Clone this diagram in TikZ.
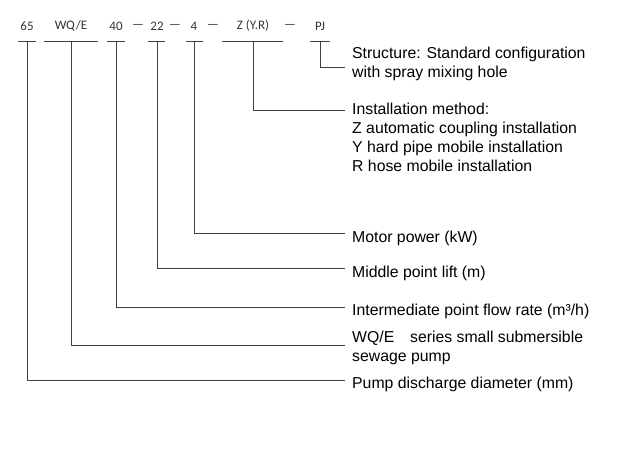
\documentclass[tikz,border=0pt]{standalone}
\usepackage{fontspec}
\setmainfont{Liberation Sans}
\newfontfamily\carlitofont{Carlito}
\begin{document}
\begin{tikzpicture}[x=1pt,y=-1pt,
  ln/.style={draw=black!75,line width=0.8pt},
  code/.style={font=\carlitofont\fontsize{13}{15}\selectfont,text=black!80,inner sep=0pt},
  desc/.style={font=\fontsize{15.8}{19}\selectfont,anchor=west,align=left,inner sep=0pt}]
\useasboundingbox (0,0) rectangle (640,450);
\node[code] (c65) at (27,26) {65};
\node[code] (cwq) at (71,26) {WQ/E};
\node[code] (c40) at (116,26) {40};
\node[code] (c22) at (157,26) {22};
\node[code] (c4) at (194,26) {4};
\node[code] (cz) at (253,26) {Z (Y.R)};
\node[code] (cpj) at (320,26) {PJ};
\foreach \x in {138,175,213,290} \node[code] at (\x,26) {—};
\foreach \a/\b in {18/36,44/98,107/125,148/165,186/203,222/283,310/330}
  \draw[ln] (\a,41) -- (\b,41);
\node[desc,anchor=north west] (d1) at (352,47) {Structure: Standard configuration\\with spray mixing hole};
\node[desc,anchor=north west] (d2) at (352,103) {Installation method:\\Z automatic coupling installation\\Y hard pipe mobile installation\\R hose mobile installation};
\node[desc] (d3) at (352,238) {Motor power (kW)};
\node[desc] (d4) at (352,273) {Middle point lift (m)};
\node[desc] (d5) at (352,311) {Intermediate point flow rate (m³/h)};
\node[desc,anchor=north west] (d6) at (352,331) {WQ/E\quad series small submersible\\sewage pump};
\node[desc] (d7) at (352,384) {Pump discharge diameter (mm)};
\coordinate (e1) at (345,67);
\coordinate (e2) at (345,110);
\coordinate (e3) at (345,233);
\coordinate (e4) at (345,268);
\coordinate (e5) at (345,307);
\coordinate (e6) at (345,345);
\coordinate (e7) at (345,380);
\draw[ln] (320,41) |- (e1);
\draw[ln] (253,41) |- (e2);
\draw[ln] (194,41) |- (e3);
\draw[ln] (157,41) |- (e4);
\draw[ln] (116,41) |- (e5);
\draw[ln] (71,41) |- (e6);
\draw[ln] (27,41) |- (e7);
\end{tikzpicture}
\end{document}
